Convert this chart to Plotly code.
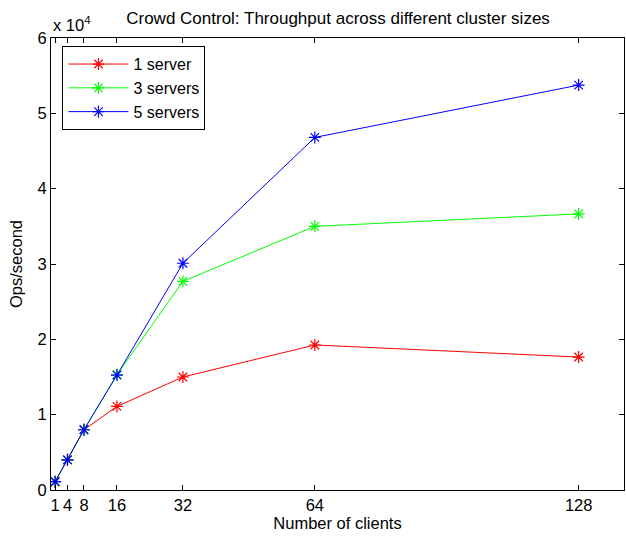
import plotly.graph_objects as go

clients = [1, 4, 8, 16, 32, 64, 128]
one_server = [1100, 4000, 8000, 11100, 15000, 19250, 17650]
three_servers = [1100, 4000, 8000, 15300, 27700, 35000, 36650]
five_servers = [1100, 4000, 8000, 15250, 30100, 46800, 53750]
series_names = ["1 server", "3 servers", "5 servers"]
series_colors = ["#ff0000", "#00ff00", "#0000ff"]
x_ticks = [1, 4, 8, 16, 32, 64, 128]
y_tickvals = [0, 10000, 20000, 30000, 40000, 50000, 60000]
y_ticktext = ["0", "1", "2", "3", "4", "5", "6"]

FONT = "Liberation Sans, Arial, sans-serif"

fig = go.Figure()
for name, vals, col in zip(series_names, [one_server, three_servers, five_servers], series_colors):
    fig.add_trace(go.Scatter(
        x=clients, y=vals, name=name, mode="lines+markers",
        line=dict(color=col, width=1),
        marker=dict(symbol="asterisk-open", size=10, color=col, line=dict(color=col, width=1.2)),
    ))

axis_common = dict(
    showline=True, linecolor="black", linewidth=1, mirror="ticks",
    ticks="inside", ticklen=5, tickcolor="black", showgrid=False, zeroline=False,
    automargin=False,
    tickfont=dict(family=FONT, size=16.5, color="black"),
)

fig.update_layout(
    width=626, height=540,
    margin=dict(l=51, r=2, t=38, b=50),
    paper_bgcolor="white", plot_bgcolor="white",
    font=dict(family=FONT, size=16, color="black"),
    title=dict(text="Crowd Control: Throughput across different cluster sizes",
               x=0.54, xanchor="center", y=0.967, yanchor="middle",
               font=dict(family=FONT, size=17, color="black")),
    xaxis=dict(range=[0, 139], tickvals=x_ticks, ticktext=[str(t) for t in x_ticks],
               title=dict(text="Number of clients", font=dict(family=FONT, size=16.5), standoff=2),
               **axis_common),
    yaxis=dict(range=[0, 60000], tickvals=y_tickvals, ticktext=y_ticktext,
               title=dict(text="Ops/second", font=dict(family=FONT, size=16.5), standoff=10),
               **axis_common),
    legend=dict(x=0.02, y=0.982, xanchor="left", yanchor="top",
                bgcolor="white", bordercolor="black", borderwidth=1,
                itemwidth=60,
                font=dict(family=FONT, size=16, color="black")),
    showlegend=True,
)

fig.add_annotation(text="x 10<sup>4</sup>", xref="paper", yref="paper", x=0.0, y=1.0,
                   xanchor="left", yanchor="bottom", yshift=2, showarrow=False,
                   font=dict(family=FONT, size=16.5, color="black"))

fig.write_html("out.html", config={"displayModeBar": False},
               post_script="document.body.style.margin='0';")
